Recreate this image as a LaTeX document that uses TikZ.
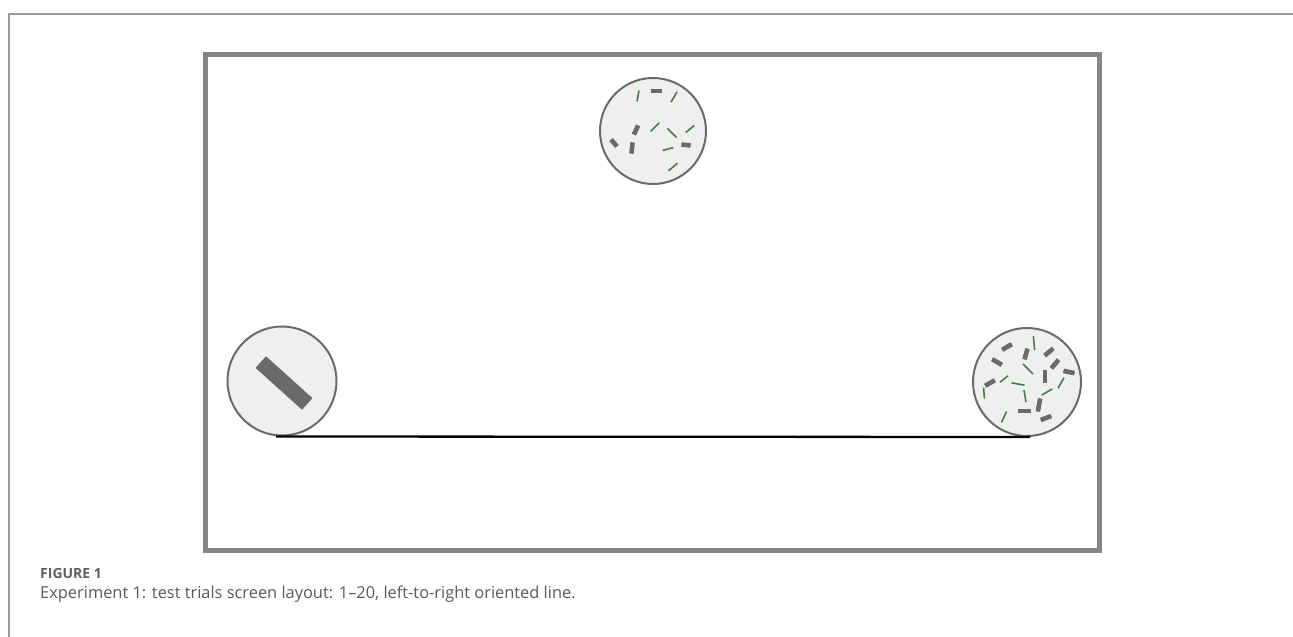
\documentclass[tikz,border=0pt]{standalone}
\usepackage{fontspec}
\setmainfont{Open Sans}
\definecolor{framegray}{HTML}{858585}
\definecolor{pagegray}{HTML}{9A9A9A}
\definecolor{discfill}{HTML}{EFEFEF}
\definecolor{discedge}{HTML}{6A6A6A}
\definecolor{mkgreen}{HTML}{4A7A4A}
\definecolor{bargray}{HTML}{6A6A6A}
\definecolor{capgray}{HTML}{5A5A5A}
\definecolor{labgray}{HTML}{606060}
\tikzset{
  disc/.style={circle, draw=discedge, fill=discfill, line width=2pt, minimum size=106pt, inner sep=0pt},
  thinmk/.style={draw=mkgreen, line width=1.6pt},
  thickmk/.style={draw=mkgreen!80!gray, double=bargray, double distance=3.6pt, line width=0.5pt},
  baseline/.style={draw=black, line width=2.3pt},
  screen/.style={draw=framegray, line width=4.5pt},
  pageline/.style={draw=pagegray, line width=1.3pt},
}
\newcommand\mk[5]{\draw[#5] (#1,#2) ++(#3:#4pt) -- ++(#3+180:2*#4pt);}
\begin{document}
\begin{tikzpicture}[x=1pt,y=-1pt]
\useasboundingbox (0,0) rectangle (1293,637);
% page frame
\coordinate (pgTL) at (9,14);
\coordinate (pgTR) at (1293,14);
\coordinate (pgBL) at (9,637);
\draw[pageline] (pgTR) -- (pgTL) -- (pgBL);
% screen
\draw[screen] (205.5,54.5) rectangle (1099.5,550.5);
% discs
\node[disc] (top) at (653,131) {};
\node[disc, minimum size=109pt] (lc) at (282,381) {};
\node[disc, minimum size=108pt] (rc) at (1027,382) {};
% line
\draw[baseline] ([xshift=-6pt]lc.south) -- ([xshift=3pt]rc.south);
% big bar in left disc
\draw[fill=bargray, draw=mkgreen, line width=0.5pt, rotate around={-42:(284,383)}] (253,375.5) rectangle (315,390.5);
% top disc marks
\mk{638}{96}{80}{5.5}{thinmk}
\mk{656}{91}{0}{5.5}{thickmk}
\mk{674}{97}{60}{6}{thinmk}
\mk{636}{130}{65}{5}{thickmk}
\mk{655}{127}{45}{6}{thinmk}
\mk{672}{133}{-45}{6.5}{thinmk}
\mk{690}{129}{40}{5.5}{thinmk}
\mk{614}{143}{-50}{4.5}{thickmk}
\mk{632}{148}{85}{5.5}{thickmk}
\mk{668}{149}{15}{5.5}{thinmk}
\mk{686}{145}{-5}{4.5}{thickmk}
\mk{673}{167}{40}{6}{thinmk}
% right disc marks
\mk{1034}{343}{95}{7}{thinmk}
\mk{1007}{347}{30}{5.5}{thickmk}
\mk{1026}{354}{75}{5.5}{thickmk}
\mk{1049}{352}{40}{5.5}{thickmk}
\mk{997}{362}{-30}{5.5}{thickmk}
\mk{1028}{369}{-45}{7}{thinmk}
\mk{1055}{364}{50}{5.5}{thickmk}
\mk{1069}{372}{-12}{5.5}{thickmk}
\mk{1045}{376}{90}{6.5}{thickmk}
\mk{990}{383}{30}{5.5}{thickmk}
\mk{1004}{379}{40}{5}{thinmk}
\mk{1018}{384}{-10}{6.5}{thinmk}
\mk{1061}{383}{60}{6}{thinmk}
\mk{984}{393}{95}{5.5}{thinmk}
\mk{1025}{396}{-80}{6}{thinmk}
\mk{1047}{392}{30}{6}{thinmk}
\mk{1039}{405}{80}{6.5}{thickmk}
\mk{1004}{417}{65}{6}{thinmk}
\mk{1024}{411}{0}{6.5}{thickmk}
\mk{1046}{418}{20}{5.5}{thickmk}
% caption
\node[anchor=base west, inner sep=0pt, font=\fontsize{14}{16}\selectfont\bfseries, text=labgray] (figlabel) at (40,578) {FIGURE 1};
\node[anchor=base west, inner sep=0pt, font=\fontsize{16.4}{19}\selectfont, text=capgray] (caption) at (40,598) {Experiment 1: test trials screen layout: 1--20, left-to-right oriented line.};
\end{tikzpicture}
\end{document}
